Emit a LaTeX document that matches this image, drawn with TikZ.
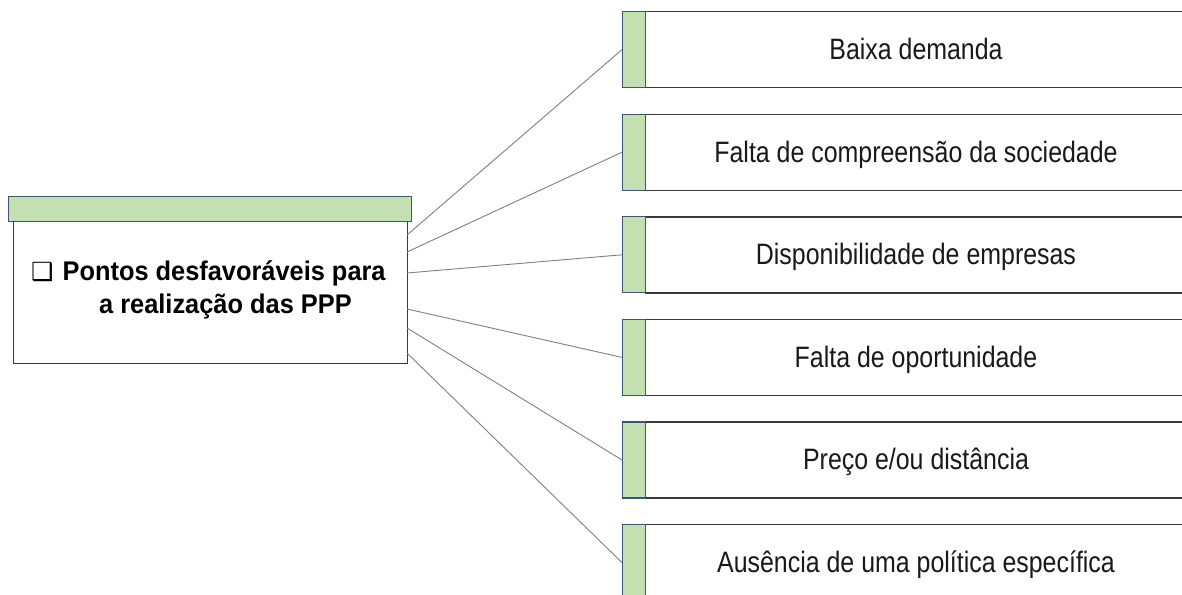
\documentclass[tikz,border=0pt]{standalone}
\usepackage{fontspec}
\setmainfont{Liberation Sans}
\newfontfamily\rfont{Liberation Sans}[FakeStretch=0.845]
\newfontfamily\lfont{Liberation Sans}[FakeStretch=0.94]
\newfontfamily\symfont{DejaVu Sans}
\definecolor{gfill}{HTML}{C4DFB2}
\definecolor{gedge}{HTML}{3E5676}
\definecolor{bedge}{HTML}{3A3A3A}
\definecolor{cline}{HTML}{808080}
\tikzset{
  gbar/.style={draw=gedge, line width=1.2pt, fill=gfill, inner sep=0pt, anchor=north west},
  wbox/.style={draw=bedge, line width=1.4pt, fill=white, inner sep=0pt, anchor=north west},
  rtext/.style={anchor=base, inner sep=0pt, font=\rfont\fontsize{29.5}{33}\selectfont, text=black!90},
  ltext/.style={anchor=base west, inner sep=0pt, font=\lfont\bfseries\fontsize{27}{33}\selectfont},
  conn/.style={draw=cline, line width=0.9pt}
}
\begin{document}
\begin{tikzpicture}
\useasboundingbox (0,0) rectangle (1182pt,-594pt);
\fill[white] (0,0) rectangle (1182pt,-594pt);
% left box
\node[wbox, minimum width=394pt, minimum height=142pt] (main) at (13pt,-221pt) {};
\node[gbar, minimum width=403pt, minimum height=25pt] (hbar) at (8pt,-196pt) {};
\node[ltext] (t1) at (31pt,-280pt) {{\symfont\fontsize{25}{25}\selectfont ❑}\hspace{9pt}Pontos desfavoráveis para};
\node[ltext] (t2) at (99pt,-313pt) {a realização das PPP};
% right boxes
\foreach \i/\top/\txt in {1/11/Baixa demanda,
  2/113.6/Falta de compreensão da sociedade,
  3/216.2/Disponibilidade de empresas,
  4/318.8/Falta de oportunidade,
  5/421.4/Preço e\slash ou distância,
  6/524/Ausência de uma política específica}{
  \node[wbox, minimum width=570pt, minimum height=76pt] (b\i) at (645pt,-\top pt) {};
  \node[gbar, minimum width=23pt, minimum height=76pt] (g\i) at (622pt,-\top pt) {};
  \node[rtext] (x\i) at (916pt,{-\top pt-48.5pt}) {\txt};
}
% connectors
\foreach \i/\y in {1/235,2/252,3/273,4/309,5/328,6/353}{
  \coordinate (l\i) at (407pt,-\y pt);
  \draw[conn] (l\i) -- (g\i.west);
}
\end{tikzpicture}
\end{document}
